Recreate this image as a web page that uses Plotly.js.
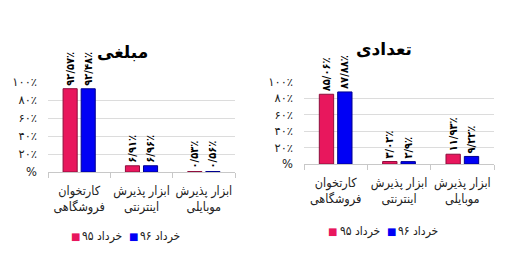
<!DOCTYPE html>
<html><head><meta charset="utf-8">
<script src="https://cdn.plot.ly/plotly-3.0.1.min.js"></script>
<style>html,body{margin:0;padding:0;background:#fff}#c{width:525px;height:271px}</style>
</head><body><div id="c"></div>
<script>
// Data
const categories = ["کارتخوان<br>فروشگاهی", "ابزار پذیرش<br>اینترنتی", "ابزار پذیرش<br>موبایلی"];
const seriesNames = ["خرداد ۹۵", "خرداد ۹۶"];
const amountTitle = "مبلغی";
const countTitle = "تعدادی";
const amount95 = [92.57, 6.91, 0.53];
const amount96 = [92.48, 6.96, 0.56];
const count95 = [85.06, 3.02, 11.93];
const count96 = [87.88, 2.9, 9.22];
const amountLabels95 = ["۹۲/۵۷٪", "۶/۹۱٪", "۰/۵۳٪"];
const amountLabels96 = ["۹۲/۴۸٪", "۶/۹۶٪", "۰/۵۶٪"];
const countLabels95 = ["۸۵/۰۶٪", "۳/۰۲٪", "۱۱/۹۳٪"];
const countLabels96 = ["۸۷/۸۸٪", "۲/۹٪", "۹/۲۲٪"];
const yTickVals = [0, 20, 40, 60, 80, 100];
const yTickText = ["%", "۲۰٪", "۴۰٪", "۶۰٪", "۸۰٪", "۱۰۰٪"];

const FONT = "DejaVu Sans, Noto Sans, sans-serif";
const CFONT = "DejaVu Sans Condensed, DejaVu Sans, sans-serif";
const pink = "#E8175D", pinkLine = "#8E0E3C";
const blue = "#0000F5", blueLine = "#00008F";

function bar(y, txt, name, color, line, xa, ya) {
  return {type: "bar", x: categories, y: y, text: txt, name: name,
    xaxis: xa, yaxis: ya, showlegend: false,
    marker: {color: color, line: {color: line, width: 1}},
    textposition: "outside", textangle: -90, cliponaxis: false, constraintext: "none",
    textfont: {family: CFONT, size: 11, color: "#000", weight: "bold"},
    hoverinfo: "none"};
}
const data = [
  bar(amount95, amountLabels95, seriesNames[0], pink, pinkLine, "x", "y"),
  bar(amount96, amountLabels96, seriesNames[1], blue, blueLine, "x", "y"),
  bar(count95, countLabels95, seriesNames[0], pink, pinkLine, "x2", "y2"),
  bar(count96, countLabels96, seriesNames[1], blue, blueLine, "x2", "y2")
];
const W = 525, H = 271;
function xa(l, r) {
  return {domain: [l / W, r / W], showline: true, linecolor: "#c8c8c8", linewidth: 1,
    ticks: "outside", tickson: "boundaries", ticklen: 5, tickcolor: "#c8c8c8", tickangle: 0,
    ticklabelstandoff: 7,
    tickfont: {family: CFONT, size: 12.5, color: "#222"}, fixedrange: true};
}
function ya(t, b, anchor) {
  return {domain: [1 - b / H, 1 - t / H], range: [0, 100], tickvals: yTickVals, ticktext: yTickText,
    showgrid: true, gridcolor: "#dcdcdc", gridwidth: 1, zeroline: false, showline: false,
    ticks: "", ticklabelstandoff: 10, tickfont: {family: FONT, size: 11.5, color: "#222"},
    anchor: anchor, fixedrange: true};
}
// legend built from series names and colours
function legendAnn(cx, cy) {
  const out = [];
  const cols = [pink, blue];
  const start = [cx - 52, cx + 6];
  for (let i = 0; i < 2; i++) {
    out.push({text: "■", xref: "paper", yref: "paper", x: start[i] / W, y: 1 - cy / H,
      xanchor: "center", yanchor: "middle", showarrow: false, borderpad: 0,
      font: {family: "DejaVu Sans", size: 10, color: cols[i]}});
    out.push({text: seriesNames[i], xref: "paper", yref: "paper", x: (start[i] + 6) / W, y: 1 - cy / H,
      xanchor: "left", yanchor: "middle", showarrow: false, borderpad: 0,
      font: {family: CFONT, size: 12, color: "#222"}});
  }
  return out;
}
const layout = {
  width: W, height: H, margin: {l: 0, r: 0, t: 0, b: 0},
  paper_bgcolor: "#fff", plot_bgcolor: "#fff",
  barmode: "group", bargap: 0.42, bargroupgap: 0.22,
  font: {family: FONT}, showlegend: false,
  xaxis: Object.assign(xa(48, 235), {anchor: "y"}),
  yaxis: ya(82, 172, "x"),
  xaxis2: Object.assign(xa(304, 494), {anchor: "y2"}),
  yaxis2: ya(82, 164, "x2"),
  annotations: [
    {text: "<b>" + amountTitle + "</b>", xref: "paper", yref: "paper", x: 122 / W, y: 1 - 52 / H,
      xanchor: "center", yanchor: "middle",
      showarrow: false, font: {family: FONT, size: 17, color: "#000"}},
    {text: "<b>" + countTitle + "</b>", xref: "paper", yref: "paper", x: 384 / W, y: 1 - 49 / H,
      xanchor: "center", yanchor: "middle",
      showarrow: false, font: {family: FONT, size: 17, color: "#000"}}
  ].concat(legendAnn(127, 236), legendAnn(385, 231))
};
Plotly.newPlot("c", data, layout, {displayModeBar: false, staticPlot: true});
</script></body></html>
